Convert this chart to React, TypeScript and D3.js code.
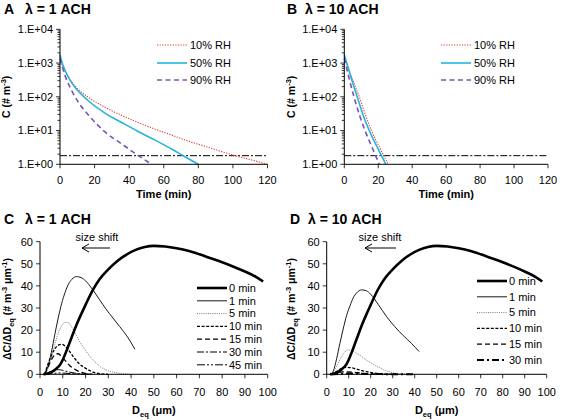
import React from 'react';
import * as d3 from 'd3';

const FONT = '"Liberation Sans", Arial, Helvetica, sans-serif';

// ---------- Panels A / B : concentration vs time ----------
const timeTicks = [0, 20, 40, 60, 80, 100, 120];
const concMajorTicks = [1, 10, 100, 1000, 10000];
const thresholdConc = 1.8;

const aRH10Time = [0, 1, 3, 5, 8, 11, 16, 26, 36, 45, 55, 65, 74, 84, 94, 103, 113, 120];
const aRH10Conc = [1585, 955, 550, 372, 229, 158, 100, 49, 27.5, 17.4, 11, 7.2, 4.9, 3.4, 2.34, 1.7, 1.26, 1];
const aRH50Time = [0, 1, 3, 5, 7, 10, 16, 26, 36, 45, 55, 65, 72, 80];
const aRH50Conc = [1780, 1120, 600, 370, 250, 158, 79, 33, 17, 9.5, 5.2, 2.75, 1.7, 1];
const aRH90Time = [0, 1, 3, 7, 10.6, 16.4, 26, 36, 45.5, 53];
const aRH90Conc = [1350, 890, 417, 145, 69, 29, 9.1, 3.9, 1.78, 1];

const bRH10Time = [0, 4.4, 8.8, 12.4, 16, 21, 26];
const bRH10Conc = [1585, 380, 100, 29.5, 10, 3.0, 1];
const bRH50Time = [0, 3.8, 7.6, 11, 14.7, 19, 22, 24.5];
const bRH50Conc = [1780, 400, 100, 29.5, 10, 3.55, 1.78, 1];
const bRH90Time = [0, 2.8, 5.7, 9, 12.2, 15.5, 18.5, 20.6];
const bRH90Conc = [1400, 355, 100, 28, 10, 4, 1.78, 1];

const rhLabels = ['10% RH', '50% RH', '90% RH'];

// ---------- Panels C / D : size distributions ----------
const diamTicks = [0, 10, 20, 30, 40, 50, 60, 70, 80, 90, 100];
const densTicks = [0, 10, 20, 30, 40, 50, 60];

const min0Diam = [1.5, 3, 5, 7, 9, 10, 12, 14, 16, 18, 20, 23, 26, 30, 34, 38, 42, 46, 50, 55, 60, 65, 70, 75, 80, 85, 90, 95, 98];
const min0Dens = [0, 0.2, 1.0, 2.4, 4.6, 6.6, 11.6, 17, 22.3, 27, 31.4, 37.8, 42.8, 47.5, 51.3, 54.2, 56.3, 57.6, 58.1, 57.8, 57, 55.9, 54.3, 52.5, 50.7, 48.7, 46.5, 44, 42];

const c1Diam = [2, 3.5, 5, 6.5, 8, 9.5, 11, 12.5, 14, 16, 18, 20, 23, 26, 29, 32, 35, 38.5, 41.7];
const c1Dens = [0, 3.5, 10, 18, 25.5, 32, 37, 40.8, 43, 44.2, 43.8, 42.3, 38.5, 34, 29.5, 25.5, 21.6, 16.8, 11.3];
const c5Diam = [2, 3.5, 5.5, 7.5, 9.2, 11, 12.5, 14, 16, 18, 20, 23, 26, 29, 32, 36, 40];
const c5Dens = [0, 2.5, 10, 17, 21.5, 23.5, 23.3, 21.3, 17.5, 13.8, 10.8, 6.8, 3.8, 2, 1, 0.3, 0];
const c10Diam = [2, 3.3, 5, 6.5, 8.5, 9.5, 11, 12.5, 15, 17, 19.6, 22, 24, 27, 30];
const c10Dens = [0, 4, 8.5, 11.5, 13.4, 13.6, 12.8, 11, 7.5, 5, 3, 1.6, 0.8, 0.2, 0];
const c15Diam = [2, 3.5, 5.5, 7, 8, 9.5, 11, 13, 15.1, 17, 19.6, 23];
const c15Dens = [0, 3.2, 7.5, 9.2, 9.3, 8, 6.3, 4, 2.4, 1.3, 0.5, 0];
const c30Diam = [2, 4, 6, 8, 10, 12, 15, 18, 22];
const c30Dens = [0, 1, 1.9, 2.1, 1.8, 1.2, 0.6, 0.2, 0];
const c45Diam = [2, 5, 8, 11, 14, 18, 22];
const c45Dens = [0, 0.3, 0.6, 0.5, 0.3, 0.1, 0];

const d1Diam = [2, 3, 4.5, 6, 7.5, 9, 10.6, 12, 13.6, 15.9, 18, 20, 23.5, 27.3, 31, 34.8, 38.5, 42];
const d1Dens = [0, 1.5, 7, 14, 20.5, 26.5, 31, 34.5, 36.8, 38.2, 37.8, 36.2, 31.5, 26, 21.5, 17.5, 14, 10.3];
const d5Diam = [2, 3.9, 6.2, 8, 9.5, 11, 13, 15, 18, 20.5, 22.5, 24.5, 26.7, 29, 31, 34, 38];
const d5Dens = [0, 2.5, 7, 9.8, 11, 11, 9.8, 8.7, 6.5, 5, 3.7, 2.8, 1.6, 1.0, 0.5, 0.2, 0];
const d10Diam = [2, 4, 6, 8.5, 11, 14, 18, 22, 27, 32];
const d10Dens = [0, 1, 2.3, 3.2, 3, 2.2, 1.2, 0.5, 0.1, 0];
const d15Diam = [2, 4, 7, 10, 14, 18, 24];
const d15Dens = [0, 0.5, 1.1, 1.1, 0.7, 0.3, 0];
const d30Diam = [2, 6, 10, 15, 25, 40];
const d30Dens = [0, 0.2, 0.35, 0.25, 0.08, 0];

const cLabels = ['0 min', '1 min', '5 min', '10 min', '15 min', '30 min', '45 min'];
const dLabels = ['0 min', '1 min', '5 min', '10 min', '15 min', '30 min'];

const zip = (a: number[], b: number[]) => a.map((v, i) => [v, b[i]] as [number, number]);

type Style = { stroke: string; width: number; dash?: string };

const rhStyles: Style[] = [
  { stroke: '#e0483f', width: 1.1, dash: '1.3,1.3' },
  { stroke: '#26b3dc', width: 1.6 },
  { stroke: '#7b52b4', width: 1.6, dash: '5,3.5' },
];

const cStyles: Style[] = [
  { stroke: '#000', width: 2.6 },
  { stroke: '#1a1a1a', width: 1 },
  { stroke: '#777', width: 1, dash: '1,1.2' },
  { stroke: '#000', width: 1.3, dash: '3,1.6' },
  { stroke: '#000', width: 1.3, dash: '5,3' },
  { stroke: '#000', width: 1, dash: '7,2,2,2' },
  { stroke: '#000', width: 1, dash: '8,2,2,2,2,2' },
];
const dStyles: Style[] = [
  { stroke: '#000', width: 2.6 },
  { stroke: '#1a1a1a', width: 1 },
  { stroke: '#777', width: 1, dash: '1,1.2' },
  { stroke: '#000', width: 1.3, dash: '3,1.6' },
  { stroke: '#000', width: 1.3, dash: '5,3' },
  { stroke: '#000', width: 2, dash: '7,3,2,3' },
];

const sciFmt = (v: number) => `1.E+${String(Math.round(Math.log10(v))).padStart(2, '0')}`;

function Title({ x, y, letter, lamX, text }: { x: number; y: number; letter: string; lamX: number; text: string }) {
  return (
    <g fontFamily={FONT} fontWeight="bold" fontSize={14}>
      <text x={x} y={y}>{letter}</text>
      <text x={lamX} y={y}>{text}</text>
    </g>
  );
}

function LogPanel(props: {
  x0: number; x1: number; yb: number; yt: number;
  series: [number, number][][]; letter: string; lamText: string; letterX: number; lamX: number;
  legX: number; yLabelX: number;
}) {
  const { x0, x1, yb, yt, series } = props;
  const x = d3.scaleLinear().domain([0, 120]).range([x0, x1]);
  const y = d3.scaleLog().domain([1, 10000]).range([yb, yt]);
  const line = d3.line<[number, number]>().x(d => x(d[0])).y(d => y(d[1])).curve(d3.curveMonotoneX);
  const allTicks = y.ticks();
  const legYs = [45, 63, 80];
  return (
    <g fontFamily={FONT}>
      <Title x={props.letterX} y={13.5} letter={props.letter} lamX={props.lamX} text={props.lamText} />
      {/* threshold */}
      <line x1={x(0)} x2={x(120)} y1={y(thresholdConc)} y2={y(thresholdConc)} stroke="#000" strokeWidth={1} strokeDasharray="7,2,2,2" />
      {series.map((s, i) => (
        <path key={i} d={line(s) || ''} fill="none" stroke={rhStyles[i].stroke} strokeWidth={rhStyles[i].width}
          strokeDasharray={rhStyles[i].dash} />
      ))}
      {/* axes */}
      <line x1={x0} x2={x0} y1={yb} y2={yt} stroke="#000" strokeWidth={1} />
      <line x1={x0} x2={x1} y1={yb} y2={yb} stroke="#000" strokeWidth={1} />
      {allTicks.map((t, i) => {
        const major = concMajorTicks.includes(t);
        return <line key={i} x1={x0 - (major ? 4 : 2.5)} x2={x0} y1={y(t)} y2={y(t)} stroke="#000" strokeWidth={0.8} />;
      })}
      {concMajorTicks.map(t => (
        <text key={t} x={x0 - 7} y={y(t)} dy="0.35em" textAnchor="end" fontSize={11}>{sciFmt(t)}</text>
      ))}
      {timeTicks.map(t => (
        <g key={t}>
          <line x1={x(t)} x2={x(t)} y1={yb} y2={yb + 4} stroke="#000" strokeWidth={0.8} />
          <text x={x(t)} y={yb + 20} textAnchor="middle" fontSize={11}>{t}</text>
        </g>
      ))}
      <text x={(x0 + x1) / 2 + 0} y={198} textAnchor="middle" fontSize={11} fontWeight="bold">Time (min)</text>
      <text transform={`translate(${props.yLabelX},${(yb + yt) / 2}) rotate(-90)`} textAnchor="middle" fontSize={10.5} fontWeight="bold">
        C (# m<tspan dy={-4} fontSize={7.5}>-3</tspan><tspan dy={4}>)</tspan>
      </text>
      {/* legend */}
      {rhLabels.map((lab, i) => (
        <g key={lab}>
          <line x1={props.legX} x2={props.legX + 30} y1={legYs[i]} y2={legYs[i]} stroke={rhStyles[i].stroke}
            strokeWidth={rhStyles[i].width} strokeDasharray={rhStyles[i].dash} />
          <text x={props.legX + 33} y={legYs[i]} dy="0.35em" fontSize={11}>{lab}</text>
        </g>
      ))}
    </g>
  );
}

function DistPanel(props: {
  x0: number; x1: number; yb: number; yt: number;
  series: [number, number][][]; labels: string[]; styles: Style[];
  letter: string; lamText: string; letterX: number; lamX: number;
  legX: number; legY0: number; legDy: number; yLabelX: number; arrowX1: number; arrowX2: number; shiftX: number;
}) {
  const { x0, x1, yb, yt, series, styles } = props;
  const x = d3.scaleLinear().domain([0, 100]).range([x0, x1]);
  const y = d3.scaleLinear().domain([0, 60]).range([yb, yt]);
  const line = d3.line<[number, number]>().x(d => x(d[0])).y(d => y(d[1])).curve(d3.curveMonotoneX);
  return (
    <g fontFamily={FONT}>
      <Title x={props.letterX} y={224} letter={props.letter} lamX={props.lamX} text={props.lamText} />
      {series.map((s, i) => i === 0 ? null : (
        <path key={i} d={line(s) || ''} fill="none" stroke={styles[i].stroke} strokeWidth={styles[i].width}
          strokeDasharray={styles[i].dash} />
      ))}
      <path d={line(series[0]) || ''} fill="none" stroke={styles[0].stroke} strokeWidth={styles[0].width} />
      <line x1={x0} x2={x0} y1={yb} y2={yt} stroke="#000" strokeWidth={1} />
      <line x1={x0} x2={x1} y1={yb} y2={yb} stroke="#000" strokeWidth={1} />
      {densTicks.map(t => (
        <g key={t}>
          <line x1={x0 - 4} x2={x0} y1={y(t)} y2={y(t)} stroke="#000" strokeWidth={0.8} />
          <text x={x0 - 7} y={y(t)} dy="0.35em" textAnchor="end" fontSize={11}>{t}</text>
        </g>
      ))}
      {diamTicks.map(t => (
        <g key={t}>
          <line x1={x(t)} x2={x(t)} y1={yb} y2={yb + 4} stroke="#000" strokeWidth={0.8} />
          <text x={x(t)} y={yb + 22} textAnchor="middle" fontSize={11}>{t}</text>
        </g>
      ))}
      <text x={(x0 + x1) / 2} y={414} textAnchor="middle" fontSize={11} fontWeight="bold">
        D<tspan dy={3} fontSize={7.5}>eq</tspan><tspan dy={-3}> (μm)</tspan>
      </text>
      <text transform={`translate(${props.yLabelX},${(yb + yt) / 2 + 1}) rotate(-90)`} textAnchor="middle" fontSize={10.5} fontWeight="bold">
        ΔC/ΔD<tspan dy={3} fontSize={7.5}>eq</tspan><tspan dy={-3}> (# m</tspan><tspan dy={-4} fontSize={7.5}>-3</tspan>
        <tspan dy={4}> μm</tspan><tspan dy={-4} fontSize={7.5}>-1</tspan><tspan dy={4}>)</tspan>
      </text>
      {/* size shift */}
      <text x={props.shiftX} y={241} textAnchor="middle" fontSize={11}>size shift</text>
      <line x1={props.arrowX1} x2={props.arrowX2} y1={248} y2={248} stroke="#000" strokeWidth={1} />
      <path d={`M${props.arrowX2 + 7},${244} L${props.arrowX2},${248} L${props.arrowX2 + 7},${252}`} fill="none" stroke="#000" strokeWidth={1} />
      {props.labels.map((lab, i) => {
        const ly = props.legY0 + i * props.legDy;
        return (
          <g key={lab}>
            <line x1={props.legX} x2={props.legX + 30} y1={ly} y2={ly} stroke={styles[i].stroke}
              strokeWidth={styles[i].width} strokeDasharray={styles[i].dash} />
            <text x={props.legX + 32} y={ly} dy="0.35em" fontSize={11}>{lab}</text>
          </g>
        );
      })}
    </g>
  );
}

export default function App() {
  const aSeries = [zip(aRH10Time, aRH10Conc), zip(aRH50Time, aRH50Conc), zip(aRH90Time, aRH90Conc)];
  const bSeries = [zip(bRH10Time, bRH10Conc), zip(bRH50Time, bRH50Conc), zip(bRH90Time, bRH90Conc)];
  const cSeries = [zip(min0Diam, min0Dens), zip(c1Diam, c1Dens), zip(c5Diam, c5Dens), zip(c10Diam, c10Dens),
    zip(c15Diam, c15Dens), zip(c30Diam, c30Dens), zip(c45Diam, c45Dens)];
  const dSeries = [zip(min0Diam, min0Dens), zip(d1Diam, d1Dens), zip(d5Diam, d5Dens), zip(d10Diam, d10Dens),
    zip(d15Diam, d15Dens), zip(d30Diam, d30Dens)];
  return (
    <svg width={563} height={420} style={{ position: 'absolute', left: 0, top: 0, background: '#fff' }}>
      <rect width={563} height={420} fill="#fff" />
      <LogPanel x0={60} x1={267.5} yb={164.3} yt={29.3} series={aSeries} letter="A" lamText="λ = 1 ACH"
        letterX={4} lamX={25} legX={157} yLabelX={10} />
      <LogPanel x0={344.3} x1={548} yb={164.3} yt={29.3} series={bSeries} letter="B" lamText="λ = 10 ACH"
        letterX={287} lamX={305} legX={441} yLabelX={295} />
      <DistPanel x0={40} x1={267.7} yb={374.3} yt={241.7} series={cSeries} labels={cLabels} styles={cStyles}
        letter="C" lamText="λ = 1 ACH" letterX={4} lamX={25} legX={197} legY0={288} legDy={12.8}
        yLabelX={11} arrowX1={110} arrowX2={82} shiftX={97} />
      <DistPanel x0={326.7} x1={546.7} yb={374.3} yt={241.7} series={dSeries} labels={dLabels} styles={dStyles}
        letter="D" lamText="λ = 10 ACH" letterX={290} lamX={308} legX={477} legY0={281} legDy={15.8}
        yLabelX={295} arrowX1={396} arrowX2={365} shiftX={380} />
    </svg>
  );
}
